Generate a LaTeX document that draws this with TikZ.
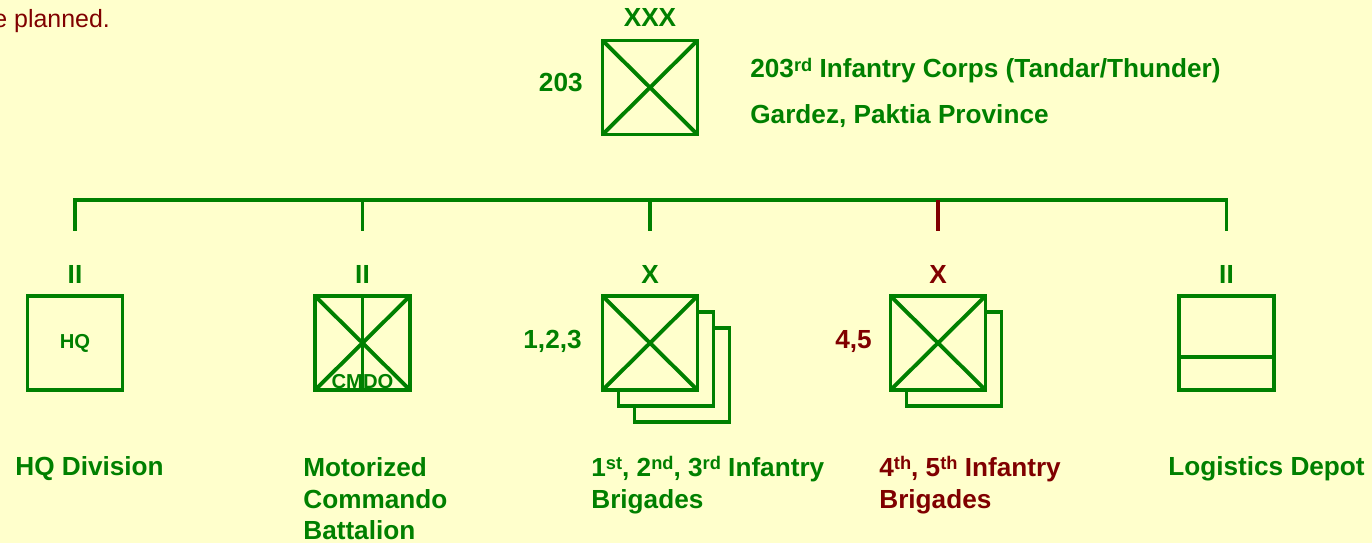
\documentclass[tikz,border=0pt]{standalone}
\usepackage{fontspec}
\setmainfont{Liberation Sans}
\usetikzlibrary{positioning}

\definecolor{armygreen}{RGB}{0,128,0}
\definecolor{plannedred}{RGB}{128,0,0}
\definecolor{paper}{RGB}{255,255,204}

\newcommand{\ordsfx}[1]{\raisebox{3.8pt}{\fontsize{10.4}{11}\selectfont #1}}

\tikzset{
    unit/.style={draw=armygreen, line width=2.2pt, fill=paper, minimum width=1.9cm,
        minimum height=1.88cm, inner sep=0pt, text=armygreen,
        font=\bfseries\fontsize{11.5}{13}\selectfont},
    infantry/.style={unit, path picture={
        \draw[armygreen, line width=2.2pt]
            (path picture bounding box.north west) -- (path picture bounding box.south east)
            (path picture bounding box.north east) -- (path picture bounding box.south west);}},
    tree/.style={armygreen, line width=2.2pt},
    lbl/.style={font=\bfseries\fontsize{14.9}{18.1}\selectfont, text=armygreen,
        inner sep=0pt, align=left, anchor=base west},
    ech/.style={lbl, anchor=base}
}

\begin{document}
\begin{tikzpicture}[x=0.02cm, y=-0.02cm]
    \fill[paper] (0,0) rectangle (1372,543);
    \useasboundingbox (0,0) rectangle (1372,543);

    % Note, cut at the left edge
    \node[lbl, font=\fontsize{14.2}{17}\selectfont, text=plannedred] (note) at (-7,28) {e planned.};

    % Corps
    \node[infantry] (corps) at (650,87.5) {};
    \node[ech] (corpsech) at (650,27) {XXX};
    \node[lbl, anchor=base east] (corpsnum) at (583,92) {203};
    \node[lbl] (corpsname) at (750,78) {203\ordsfx{rd} Infantry Corps (Tandar/Thunder)};
    \node[lbl] (corpsloc) at (750,124) {Gardez, Paktia Province};

    % Units
    \node[unit] (hq) at (75,343) {HQ};
    \node[infantry] (cmdo) at (362.5,343) {};
    \draw[armygreen, line width=2.2pt] (cmdo.north) -- (cmdo.south);
    \node[lbl, anchor=base, font=\bfseries\fontsize{11.5}{13}\selectfont] (cmdotxt) at (362.5,389) {CMDO};
    \node[unit] (bde3) at (682,375) {};
    \node[unit] (bde2) at (666,359) {};
    \node[infantry] (bde) at (650,343) {};
    \node[lbl, anchor=base east] (bdenum) at (582,349) {1,2,3};
    \node[unit] (bdeb2) at (954,359) {};
    \node[infantry] (bdeb) at (938,343) {};
    \node[lbl, anchor=base east, text=plannedred] (bdebnum) at (872,349) {4,5};
    \node[unit] (log) at (1226.5,343) {};
    \coordinate (logsplit) at (0,357);
    \draw[armygreen, line width=2.2pt] (log.west |- logsplit) -- (log.east |- logsplit);

    % Echelons
    \coordinate (echrow) at (0,284);
    \foreach \u/\e in {hq/II, cmdo/II, bde/X, log/II}
        \node[ech] (\u-ech) at (\u.north |- echrow) {\e};
    \node[ech, text=plannedred] (bdeb-ech) at (bdeb.north |- echrow) {X};

    % Tree
    \coordinate (bar) at (0,200);
    \coordinate (stub) at (0,231);
    \draw[tree] (hq.north |- stub) -- (hq.north |- bar) -- (log.north |- bar) -- (log.north |- stub);
    \foreach \u in {cmdo, bde}
        \draw[tree] (\u.north |- bar) -- (\u.north |- stub);
    \draw[tree, plannedred] (bdeb.north |- bar) -- (bdeb.north |- stub);

    % Names (base = last line)
    \node[lbl] (hqname) at (15,476) {HQ Division};
    \node[lbl] (cmdoname) at (303,540) {Motorized\\Commando\\Battalion};
    \node[lbl] (bdename) at (591,508) {1\ordsfx{st}, 2\ordsfx{nd}, 3\ordsfx{rd} Infantry\\Brigades};
    \node[lbl, text=plannedred] (bdebname) at (879,508) {4\ordsfx{th}, 5\ordsfx{th} Infantry\\Brigades};
    \node[lbl] (logname) at (1168,476) {Logistics Depot};
\end{tikzpicture}
\end{document}
